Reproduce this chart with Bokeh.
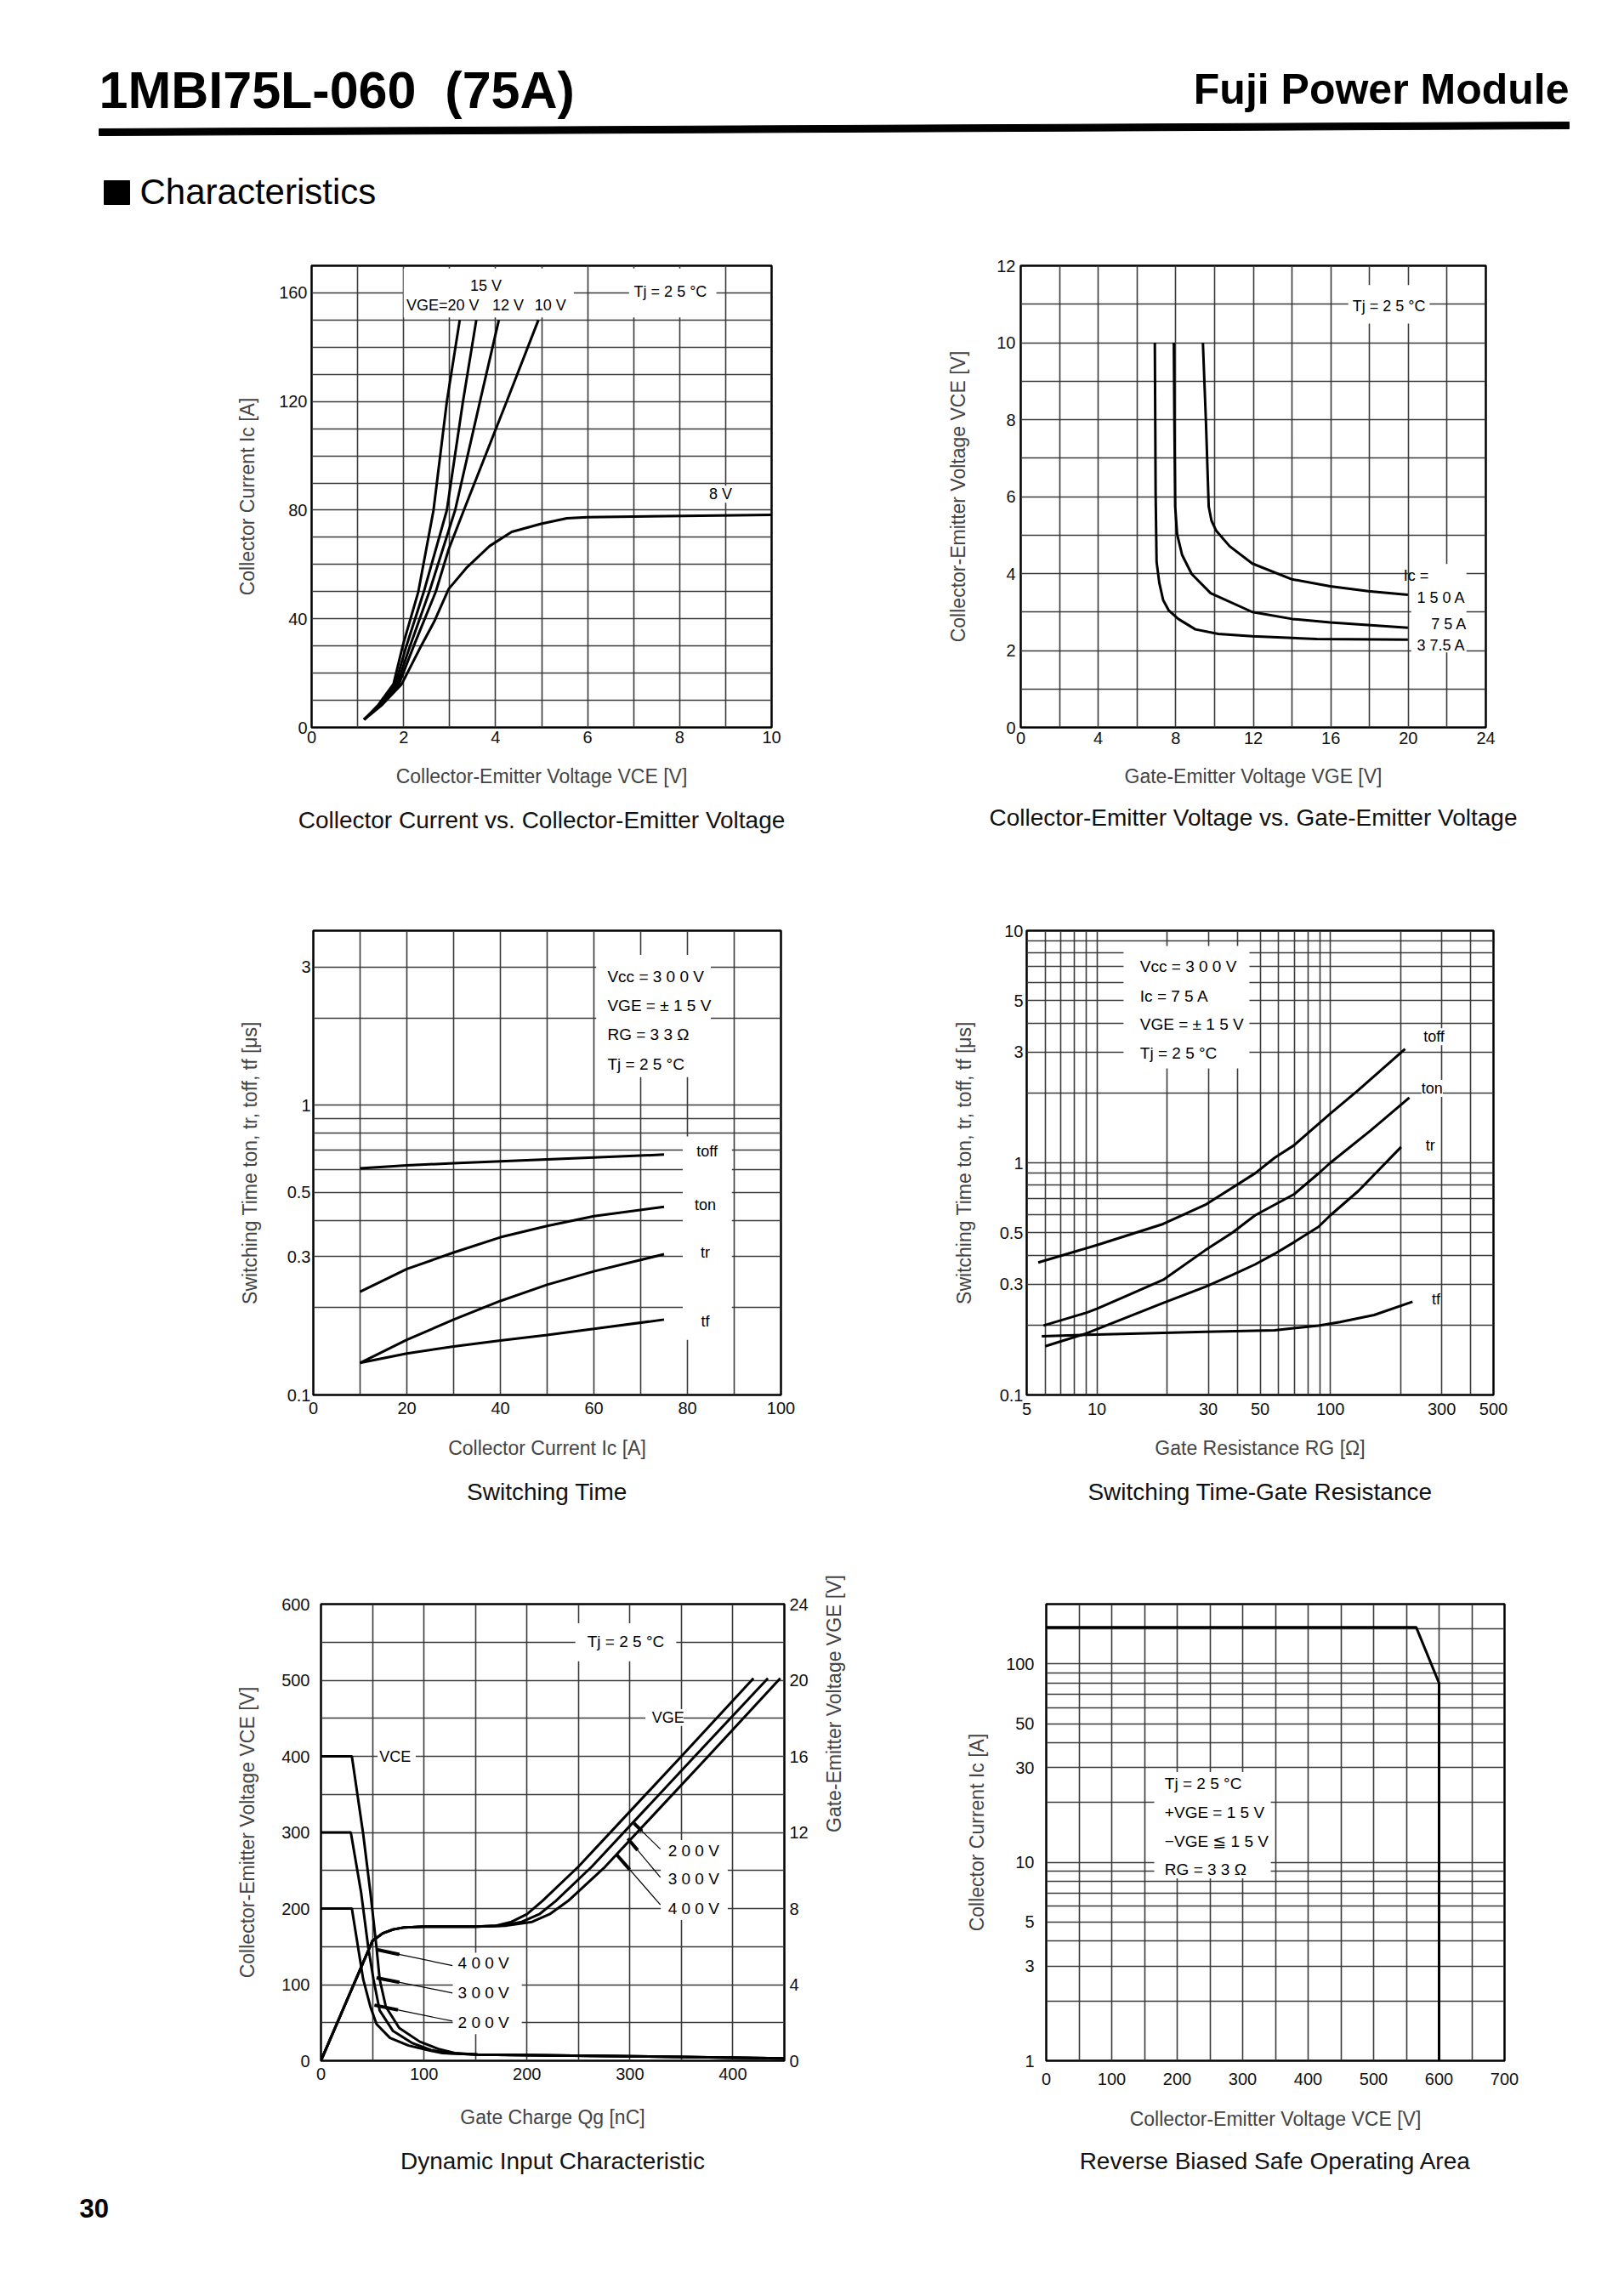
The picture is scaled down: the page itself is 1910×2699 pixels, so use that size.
import math
from bokeh.plotting import figure
from bokeh.models import (Range1d, FixedTicker, Label, BoxAnnotation, LinearAxis,
                          Title, CustomJSTickFormatter)
from bokeh.layouts import column, row
from bokeh.embed import file_html
from bokeh.resources import INLINE

NARROW = "Liberation Sans, DejaVu Sans, sans-serif"
SANS = "Liberation Sans, DejaVu Sans, sans-serif"
GRID = "#3a3a3a"

# ---------------- data ----------------
# Chart 1 : Collector current vs collector-emitter voltage (Tj = 25 C)
c1_ic = [2.9, 8.3, 16, 30, 50, 80, 120, 150]
c1_vce_20v = [1.14, 1.45, 1.78, 1.98, 2.32, 2.65, 2.94, 3.22]
c1_vce_15v = [1.14, 1.47, 1.82, 2.06, 2.44, 2.94, 3.29, 3.58]
c1_vce_12v = [1.14, 1.49, 1.86, 2.14, 2.56, 3.12, 3.66, 4.07]
c1_ic_10v = [2.9, 8.3, 16, 30, 50, 65.6, 80, 120, 150]
c1_vce_10v = [1.14, 1.51, 1.90, 2.22, 2.70, 2.98, 3.31, 4.24, 4.93]
c1_ic_8v = [2.9, 8.3, 16, 30, 38.8, 51, 59, 66.8, 72, 75, 77, 77.4, 78.3]
c1_vce_8v = [1.14, 1.53, 1.96, 2.38, 2.66, 2.98, 3.38, 3.87, 4.35, 4.99, 5.55, 5.99, 10.0]

# Chart 2 : VCE vs VGE
c2_vge_150a = [9.40, 9.56, 9.70, 9.84, 10.09, 10.78, 11.95, 14.0, 15.97, 17.93, 19.98]
c2_vce_150a = [10.0, 7.9, 5.74, 5.38, 5.11, 4.71, 4.26, 3.85, 3.67, 3.54, 3.45]
c2_vge_75a = [7.90, 7.93, 7.97, 8.07, 8.33, 8.82, 9.80, 11.95, 14.0, 15.97, 19.98]
c2_vce_75a = [10.0, 7.9, 5.74, 5.02, 4.48, 3.99, 3.49, 3.00, 2.82, 2.73, 2.59]
c2_vge_37a = [6.92, 6.96, 7.01, 7.15, 7.35, 7.64, 8.13, 9.01, 10.19, 11.95, 15.28, 19.98]
c2_vce_37a = [10.0, 6.1, 4.3, 3.76, 3.31, 3.04, 2.82, 2.55, 2.43, 2.37, 2.30, 2.28]

# Chart 3 : Switching time vs collector current
c3_ic = [10, 20, 30, 40, 50, 60, 75]
c3_toff = [0.605, 0.62, 0.63, 0.64, 0.65, 0.66, 0.675]
c3_ton = [0.227, 0.272, 0.31, 0.35, 0.383, 0.414, 0.446]
c3_tr = [0.129, 0.155, 0.182, 0.211, 0.24, 0.267, 0.306]
c3_tf = [0.129, 0.139, 0.147, 0.154, 0.161, 0.169, 0.182]

# Chart 4 : Switching time vs gate resistance
c4_rg_toff = [5.6, 10, 19.2, 29.1, 47.6, 57.6, 69.9, 100, 132, 209]
c4_toff = [0.372, 0.442, 0.545, 0.659, 0.901, 1.05, 1.19, 1.63, 2.06, 3.09]
c4_rg_ton = [5.9, 9.0, 10, 19.2, 29.1, 38, 47.6, 69.9, 89, 100, 149, 218]
c4_ton = [0.199, 0.226, 0.235, 0.313, 0.42, 0.50, 0.594, 0.732, 0.90, 1.0, 1.38, 1.91]
c4_rg_tr = [6.0, 9.0, 19.2, 29.1, 38, 47.6, 57.6, 69.9, 89, 100, 132, 201]
c4_tr = [0.162, 0.184, 0.249, 0.292, 0.329, 0.365, 0.405, 0.455, 0.53, 0.594, 0.757, 1.17]
c4_rg_tf = [5.8, 10, 29.1, 57.6, 89, 110, 154, 225]
c4_tf = [0.179, 0.182, 0.187, 0.19, 0.199, 0.206, 0.221, 0.252]

# Chart 5 : Dynamic input characteristic
c5_q_vce200 = [0, 30, 41, 48, 54, 67, 85, 104, 118, 152, 300, 450]
c5_vce200 = [200, 200, 107, 71, 48, 30, 20, 14, 10, 8, 6, 3]
c5_q_vce300 = [0, 29, 39, 46, 51, 57, 70, 89, 107, 122, 152, 300, 450]
c5_vce300 = [300, 300, 221, 148, 107, 66, 39, 23, 14, 10, 8, 6, 3]
c5_q_vce400 = [0, 30, 41, 48, 54, 57, 63, 76, 96, 115, 130, 152, 300, 450]
c5_vce400 = [400, 400, 298, 221, 148, 107, 71, 43, 25, 15, 10, 8, 6, 3]
c5_vge = [0, 6.3, 6.7, 6.9, 7.0, 7.05, 7.05, 7.1, 7.3, 7.7, 8.4, 10.2, 13.1, 16.0, 20.1]
c5_q_vge200 = [0, 50, 60, 70, 80, 100, 150, 170, 185, 200, 215, 250, 300, 350, 420]
c5_q_vge300 = [0, 50, 60, 70, 80, 100, 150, 175, 195, 212, 228, 263, 313, 363, 434]
c5_q_vge400 = [0, 50, 60, 70, 80, 100, 150, 180, 205, 222, 240, 276, 326, 376, 446]
# leader lines of the 200/300/400 V annotations
c5_lead_q0 = [329.6, 329.6, 329.6, 127.8, 127.8, 127.8]
c5_lead_v0 = [278, 241, 205, 125, 89, 52]
c5_lead_q1 = [304, 298, 287, 54, 54, 52]
c5_lead_v1 = [312, 292, 271, 146, 109, 73]

# Chart 6 : Reverse biased safe operating area
c6_vce = [0, 565, 600, 600]
c6_ic = [153, 153, 80, 1]


# ---------------- helpers ----------------
def style_axes(p):
    for ax in p.axis:
        ax.axis_line_color = None
        ax.major_tick_line_color = None
        ax.minor_tick_line_color = None
        ax.major_tick_out = 0
        ax.major_tick_in = 0
        ax.minor_tick_out = 0
        ax.minor_tick_in = 0
        ax.major_label_text_font = NARROW
        ax.major_label_text_font_size = "20px"
        ax.major_label_text_color = "#111111"
        ax.axis_label_text_font = SANS
        ax.axis_label_text_font_size = "23px"
        ax.axis_label_text_font_style = "normal"
        ax.axis_label_text_color = "#444444"


def make_fig(w, h, left, right, top, bottom, xr, yr, xt="linear", yt="linear"):
    p = figure(width=w, height=h, x_range=xr, y_range=yr, x_axis_type=xt, y_axis_type=yt,
               toolbar_location=None, output_backend="svg", title=None,
               min_border_left=left, min_border_right=right,
               min_border_top=top, min_border_bottom=bottom)
    p.outline_line_color = "black"
    p.outline_line_width = 2.5
    p.grid.grid_line_color = GRID
    p.grid.grid_line_width = 1.6
    style_axes(p)
    return p


def set_standoffs(p, ylab, ytitle, xlab, xtitle):
    p.yaxis[0].major_label_standoff = ylab
    p.yaxis[0].axis_label_standoff = ytitle
    p.xaxis[0].major_label_standoff = xlab
    p.xaxis[0].axis_label_standoff = xtitle


def add_text(p, x, y, text, size="18px", align="left", baseline="middle", bg=False):
    kw = {}
    if bg:
        kw["background_fill_color"] = "white"
    p.add_layout(Label(x=x, y=y, text=text, text_font=NARROW, text_font_size=size,
                       text_align=align, text_baseline=baseline, text_color="black", **kw))


def white_box(p, left, right, bottom, top):
    p.add_layout(BoxAnnotation(left=left, right=right, bottom=bottom, top=top,
                               fill_color="white", fill_alpha=1.0, line_color=None))


def add_title(p, text, standoff):
    p.add_layout(Title(text=text, align="center", text_font=SANS, text_font_size="28px",
                       text_font_style="normal", text_color="#111111", standoff=standoff), "below")


def curve(p, x, y, **kw):
    p.line(x, y, line_color="black", line_width=3, **kw)


logfmt = CustomJSTickFormatter(code="return String(tick);")

# ---------------- header ----------------
HDR_H = 288
hdr = figure(width=1894, height=HDR_H, x_range=Range1d(0, 1894), y_range=Range1d(HDR_H, 0),
             toolbar_location=None, output_backend="svg", title=None, min_border=0,
             x_axis_location=None, y_axis_location=None)
hdr.grid.visible = False
hdr.outline_line_color = None
hdr.add_layout(Label(x=116, y=105, text="1MBI75L-060 \u00a0(75A)", text_font=SANS,
                     text_font_style="bold", text_font_size="61px", text_baseline="middle",
                     text_color="black"))
hdr.add_layout(Label(x=1845, y=104, text="Fuji Power Module", text_font=SANS,
                     text_font_style="bold", text_font_size="50px", text_align="right",
                     text_baseline="middle", text_color="black"))
hdr.patch([116, 1845, 1845, 116], [151, 143, 151, 159], color="black")
hdr.quad(left=122, right=152, top=212, bottom=240, color="black")
hdr.add_layout(Label(x=164, y=225, text="Characteristics", text_font=SANS,
                     text_font_size="42px", text_baseline="middle", text_color="black"))

# ---------------- chart 1 ----------------
p1 = make_fig(1052, 760, 366, 145, 24, 186, Range1d(0, 10), Range1d(0, 170))
p1.xaxis.ticker = FixedTicker(ticks=[0, 2, 4, 6, 8, 10])
p1.yaxis.ticker = FixedTicker(ticks=[0, 40, 80, 120, 160])
p1.xgrid.ticker = FixedTicker(ticks=list(range(0, 11)))
p1.ygrid.ticker = FixedTicker(ticks=list(range(0, 171, 10)))
p1.xaxis.axis_label = "Collector-Emitter Voltage VCE [V]"
p1.yaxis.axis_label = "Collector Current Ic [A]"
set_standoffs(p1, 5, 21, 4, 23)
for vx in (c1_vce_20v, c1_vce_15v, c1_vce_12v):
    curve(p1, vx, c1_ic)
curve(p1, c1_vce_10v, c1_ic_10v)
curve(p1, c1_vce_8v, c1_ic_8v)
white_box(p1, 2.0, 5.7, 151, 169)
white_box(p1, 6.9, 8.8, 151, 169)
add_text(p1, 3.79, 162.7, "15 V", align="center")
add_text(p1, 2.85, 155.5, "VGE=20 V", align="center")
add_text(p1, 4.27, 155.5, "12 V", align="center")
add_text(p1, 5.19, 155.5, "10 V", align="center")
add_text(p1, 7.8, 160.4, "Tj = 2 5 °C", align="center")
add_text(p1, 8.89, 85.9, "8 V", align="center", bg=True)
add_title(p1, "Collector Current vs. Collector-Emitter Voltage", 36)

# ---------------- chart 2 ----------------
p2 = make_fig(842, 760, 148, 147, 18, 193, Range1d(0, 24), Range1d(0, 12))
p2.xaxis.ticker = FixedTicker(ticks=[0, 4, 8, 12, 16, 20, 24])
p2.yaxis.ticker = FixedTicker(ticks=[0, 2, 4, 6, 8, 10, 12])
p2.xgrid.ticker = FixedTicker(ticks=list(range(0, 25, 2)))
p2.ygrid.ticker = FixedTicker(ticks=list(range(0, 13)))
p2.xaxis.axis_label = "Gate-Emitter Voltage VGE [V]"
p2.yaxis.axis_label = "Collector-Emitter Voltage VCE [V]"
set_standoffs(p2, 6, 29, 5, 22)
curve(p2, c2_vge_150a, c2_vce_150a)
curve(p2, c2_vge_75a, c2_vce_75a)
curve(p2, c2_vge_37a, c2_vce_37a)
white_box(p2, 20.15, 23.0, 1.95, 4.25)
white_box(p2, 16.9, 21.1, 10.5, 11.5)
add_text(p2, 19.0, 10.96, "Tj = 2 5 °C", align="center")
add_text(p2, 19.75, 3.94, "Ic =")
add_text(p2, 21.7, 3.36, "1 5 0 A", align="center")
add_text(p2, 22.1, 2.68, "7 5 A", align="center")
add_text(p2, 21.7, 2.14, "3 7.5 A", align="center")
add_title(p2, "Collector-Emitter Voltage vs. Gate-Emitter Voltage", 30)

# ---------------- chart 3 ----------------
p3 = make_fig(1052, 780, 368, 134, 46, 187, Range1d(0, 100), Range1d(0.1, 4), yt="log")
p3.xaxis.ticker = FixedTicker(ticks=[0, 20, 40, 60, 80, 100])
p3.yaxis.ticker = FixedTicker(ticks=[0.1, 0.3, 0.5, 1, 3])
p3.yaxis.formatter = logfmt
p3.xgrid.ticker = FixedTicker(ticks=list(range(0, 101, 10)))
p3.ygrid.ticker = FixedTicker(ticks=[0.1, 0.2, 0.3, 0.4, 0.5, 0.6, 0.7, 0.8, 0.9, 1, 2, 3, 4])
p3.xaxis.axis_label = "Collector Current Ic [A]"
p3.yaxis.axis_label = "Switching Time ton, tr, toff, tf [μs]"
set_standoffs(p3, 3, 28, 8, 24)
for ys in (c3_toff, c3_ton, c3_tr, c3_tf):
    curve(p3, c3_ic, ys)
white_box(p3, 60.5, 85, 1.25, 3.3)
white_box(p3, 79, 89.5, 0.155, 0.78)
add_text(p3, 62.9, 2.77, "Vcc = 3 0 0 V", size="19px")
add_text(p3, 62.9, 2.21, "VGE = ± 1 5 V", size="19px")
add_text(p3, 62.9, 1.75, "RG  = 3 3 Ω", size="19px")
add_text(p3, 62.9, 1.385, "Tj  = 2 5 °C", size="19px")
add_text(p3, 84.2, 0.694, "toff", align="center")
add_text(p3, 83.8, 0.453, "ton", align="center")
add_text(p3, 83.8, 0.31, "tr", align="center")
add_text(p3, 83.8, 0.18, "tf", align="center")
add_title(p3, "Switching Time", 36)

# ---------------- chart 4 ----------------
p4 = make_fig(842, 780, 155, 138, 46, 188, Range1d(5, 500), Range1d(0.1, 10), xt="log", yt="log")
p4.xaxis.ticker = FixedTicker(ticks=[5, 10, 30, 50, 100, 300, 500])
p4.yaxis.ticker = FixedTicker(ticks=[0.1, 0.3, 0.5, 1, 3, 5, 10])
p4.xaxis.formatter = logfmt
p4.yaxis.formatter = logfmt
p4.xgrid.ticker = FixedTicker(ticks=[5, 6, 7, 8, 9, 10, 20, 30, 40, 50, 60, 70, 80, 90, 100,
                                     200, 300, 400, 500])
p4.ygrid.ticker = FixedTicker(ticks=[0.1, 0.2, 0.3, 0.4, 0.5, 0.6, 0.7, 0.8, 0.9, 1,
                                     2, 3, 4, 5, 6, 7, 8, 9, 10])
p4.xaxis.axis_label = "Gate Resistance RG [Ω]"
p4.yaxis.axis_label = "Switching Time ton, tr, toff, tf [μs]"
set_standoffs(p4, 4, 26, 9, 23)
curve(p4, c4_rg_toff, c4_toff)
curve(p4, c4_rg_ton, c4_ton)
curve(p4, c4_rg_tr, c4_tr)
curve(p4, c4_rg_tf, c4_tf)
white_box(p4, 13, 45, 2.55, 8.6)
add_text(p4, 15.3, 7.0, "Vcc = 3 0 0 V", size="19px")
add_text(p4, 15.3, 5.24, "Ic  = 7 5 A", size="19px")
add_text(p4, 15.3, 3.97, "VGE = ± 1 5 V", size="19px")
add_text(p4, 15.3, 2.97, "Tj  = 2 5 °C", size="19px")
add_text(p4, 278, 3.49, "toff", align="center", bg=True)
add_text(p4, 273, 2.09, "ton", align="center", bg=True)
add_text(p4, 268, 1.19, "tr", align="center", bg=True)
add_text(p4, 284, 0.258, "tf", align="center", bg=True)
add_title(p4, "Switching Time-Gate Resistance", 36)

# ---------------- chart 5 ----------------
p5 = make_fig(1052, 748, 377, 130, 58, 153, Range1d(0, 450), Range1d(0, 600))
p5.extra_y_ranges = {"vge": Range1d(0, 24)}
p5.xaxis.ticker = FixedTicker(ticks=[0, 100, 200, 300, 400])
p5.yaxis.ticker = FixedTicker(ticks=[0, 100, 200, 300, 400, 500, 600])
p5.xgrid.ticker = FixedTicker(ticks=list(range(0, 451, 50)))
p5.ygrid.ticker = FixedTicker(ticks=list(range(0, 601, 50)))
p5.xaxis.axis_label = "Gate Charge Qg [nC]"
p5.yaxis.axis_label = "Collector-Emitter Voltage VCE [V]"
ax_r = LinearAxis(y_range_name="vge", ticker=FixedTicker(ticks=[0, 4, 8, 12, 16, 20, 24]),
                  axis_label="Gate-Emitter Voltage VGE [V]")
p5.add_layout(ax_r, "right")
style_axes(p5)
if "axis_label_orientation" in ax_r.properties():
    ax_r.axis_label_orientation = math.pi / 2
set_standoffs(p5, 13, 24, 8, 28)
ax_r.major_label_standoff = 6
ax_r.axis_label_standoff = 27
curve(p5, c5_q_vce200, c5_vce200)
curve(p5, c5_q_vce300, c5_vce300)
curve(p5, c5_q_vce400, c5_vce400)
curve(p5, c5_q_vge200, c5_vge, y_range_name="vge")
curve(p5, c5_q_vge300, c5_vge, y_range_name="vge")
curve(p5, c5_q_vge400, c5_vge, y_range_name="vge")
white_box(p5, 247, 345, 525, 575)
white_box(p5, 55, 92, 385, 413)
white_box(p5, 315, 352, 440, 462)
white_box(p5, 330, 395, 185, 290)
white_box(p5, 128, 195, 35, 142)
p5.segment(c5_lead_q0, c5_lead_v0, c5_lead_q1, c5_lead_v1, line_color="black", line_width=1.2)
thick_q0 = [q1 + 0.3 * (q0 - q1) for q0, q1 in zip(c5_lead_q0, c5_lead_q1)]
thick_v0 = [v1 + 0.3 * (v0 - v1) for v0, v1 in zip(c5_lead_v0, c5_lead_v1)]
p5.segment(thick_q0, thick_v0, c5_lead_q1, c5_lead_v1, line_color="black", line_width=4)
add_text(p5, 296, 551, "Tj = 2 5 °C", size="19px", align="center")
add_text(p5, 72, 399, "VCE", align="center")
add_text(p5, 337, 451, "VGE", align="center")
add_text(p5, 337, 276, "2 0 0 V", size="19px")
add_text(p5, 337, 239, "3 0 0 V", size="19px")
add_text(p5, 337, 200, "4 0 0 V", size="19px")
add_text(p5, 133, 128, "4 0 0 V", size="19px")
add_text(p5, 133, 89, "3 0 0 V", size="19px")
add_text(p5, 133, 50, "2 0 0 V", size="19px")
add_title(p5, "Dynamic Input Characteristic", 36)

# ---------------- chart 6 ----------------
p6 = make_fig(842, 748, 178, 125, 57, 150, Range1d(0, 700), Range1d(1, 200), yt="log")
p6.xaxis.ticker = FixedTicker(ticks=[0, 100, 200, 300, 400, 500, 600, 700])
p6.yaxis.ticker = FixedTicker(ticks=[1, 3, 5, 10, 30, 50, 100])
p6.yaxis.formatter = logfmt
p6.xgrid.ticker = FixedTicker(ticks=list(range(0, 701, 50)))
p6.ygrid.ticker = FixedTicker(ticks=[1, 2, 3, 4, 5, 6, 7, 8, 9, 10, 20, 30, 40, 50, 60, 70, 80,
                                     90, 100, 150, 200])
p6.xaxis.axis_label = "Collector-Emitter Voltage VCE [V]"
p6.yaxis.axis_label = "Collector Current Ic [A]"
set_standoffs(p6, 14, 18, 14, 24)
curve(p6, c6_vce, c6_ic)
white_box(p6, 165, 343, 8.3, 28.5)
add_text(p6, 181, 24.9, "Tj = 2 5 °C", size="19px")
add_text(p6, 181, 17.8, "+VGE = 1 5 V", size="19px")
add_text(p6, 181, 12.8, "−VGE ≦ 1 5 V", size="19px")
add_text(p6, 181, 9.24, "RG = 3 3 Ω", size="19px")
add_title(p6, "Reverse Biased Safe Operating Area", 32)

# ---------------- footer ----------------
ftr = figure(width=1894, height=60, x_range=Range1d(0, 1894), y_range=Range1d(60, 0),
             toolbar_location=None, output_backend="svg", title=None, min_border=0,
             x_axis_location=None, y_axis_location=None)
ftr.grid.visible = False
ftr.outline_line_color = None
ftr.add_layout(Label(x=93, y=20, text="30", text_font=SANS, text_font_style="bold",
                     text_font_size="31px", text_baseline="middle", text_color="black"))

page = column(hdr, row(p1, p2), row(p3, p4), row(p5, p6), ftr)
open("out.html", "w").write(file_html(page, INLINE))
